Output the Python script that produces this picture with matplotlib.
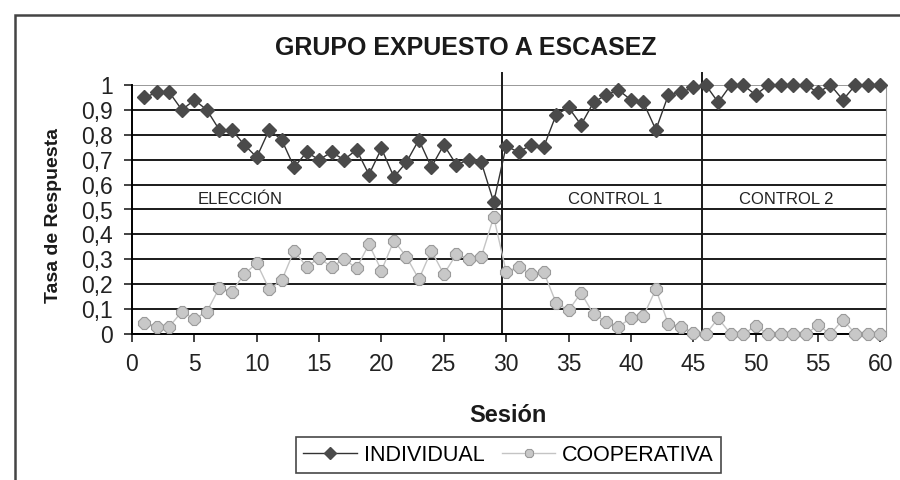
import numpy as np
import matplotlib.pyplot as plt
from matplotlib.patches import Rectangle

# datos
sesion = np.arange(1, 61)
individual = [0.95, 0.97, 0.97, 0.90, 0.94, 0.90, 0.82, 0.82, 0.76, 0.71,
              0.82, 0.78, 0.67, 0.73, 0.70, 0.73, 0.70, 0.74, 0.64, 0.745,
              0.63, 0.69, 0.78, 0.67, 0.76, 0.68, 0.70, 0.69, 0.53, 0.755,
              0.73, 0.76, 0.75, 0.88, 0.91, 0.84, 0.93, 0.96, 0.98, 0.94,
              0.93, 0.82, 0.96, 0.97, 0.99, 1.00, 0.93, 1.00, 1.00, 0.96,
              1.00, 1.00, 1.00, 1.00, 0.97, 1.00, 0.94, 1.00, 1.00, 1.00]
cooperativa = [0.045, 0.03, 0.03, 0.09, 0.06, 0.09, 0.185, 0.17, 0.24, 0.285,
               0.18, 0.215, 0.335, 0.27, 0.305, 0.27, 0.30, 0.265, 0.36, 0.255,
               0.375, 0.31, 0.22, 0.335, 0.24, 0.32, 0.30, 0.31, 0.47, 0.25,
               0.27, 0.24, 0.25, 0.125, 0.095, 0.165, 0.08, 0.05, 0.03, 0.063,
               0.072, 0.18, 0.04, 0.03, 0.005, 0.0, 0.063, 0.0, 0.0, 0.032,
               0.0, 0.0, 0.0, 0.0, 0.035, 0.0, 0.058, 0.0, 0.0, 0.0]
fases = ["ELECCIÓN", "CONTROL 1", "CONTROL 2"]
fase_x = [8.7, 38.7, 52.45]
cortes = [29.7, 45.7]
x_ticks = np.arange(0, 61, 5)
y_ticks = np.round(np.arange(0, 1.01, 0.1), 1)
y_tick_labels = [("%g" % v).replace(".", ",") for v in y_ticks]

plt.rcParams['font.family'] = ['Liberation Sans', 'DejaVu Sans']

fig = plt.figure(figsize=(9, 4.8), dpi=100)
# marco del grafico
fig.patches.append(Rectangle((15 / 900, -0.05), 1.1, 1 - 15 / 480 + 0.05,
                             transform=fig.transFigure, fill=False,
                             edgecolor='#444444', linewidth=1.8))

ax = fig.add_axes([132 / 900, 146 / 480, 754 / 900, 249 / 480])
for v in y_ticks[:-1]:
    ax.axhline(v, color='#1a1a1a', linewidth=1.4, zorder=1)
ax.axhline(1.0, color='#999999', linewidth=1.4, zorder=1)
for c in cortes:
    ax.plot([c, c], [0, 1.048], color='#1a1a1a', linewidth=1.4, clip_on=False, zorder=2)

ax.plot(sesion, individual, color='#333333', linewidth=1, marker='D', markersize=7,
        markerfacecolor='#4a4a4a', markeredgecolor='#4a4a4a', label='INDIVIDUAL', zorder=4,
        clip_on=False)
ax.plot(sesion, cooperativa, color='#c4c4c4', linewidth=1, marker='8', markersize=9,
        markerfacecolor='#c8c8c8', markeredgecolor='#9a9a9a', markeredgewidth=0.8,
        label='COOPERATIVA', zorder=3, clip_on=False)

for t, xx in zip(fases, fase_x):
    ax.text(xx, 0.522, t, ha='center', va='baseline', fontsize=12, color='#222222')

ax.set_xlim(0, 60.45)
ax.set_ylim(0, 1)
ax.set_xticks(x_ticks)
ax.set_xticklabels([str(t) for t in x_ticks], fontsize=16.5, color='#222222')
ax.set_yticks(y_ticks)
ax.set_yticklabels(y_tick_labels, fontsize=16.5, color='#222222')
ax.tick_params(axis='both', direction='out', length=6, width=1.2, color='#222222', pad=8)
ax.spines['top'].set_visible(False)
ax.spines['right'].set_color('#999999')
ax.spines['left'].set_linewidth(1.4)
ax.spines['bottom'].set_linewidth(1.4)

fig.text(466 / 900, 1 - 48 / 480, 'GRUPO EXPUESTO A ESCASEZ', ha='center', va='center',
         fontsize=18, fontweight='bold', color='#1a1a1a')
fig.text(53.5 / 900, 1 - 215 / 480, 'Tasa de Respuesta', ha='center', va='center',
         rotation=90, fontsize=14, fontweight='bold', color='#1a1a1a')
fig.text(508 / 900, 1 - 416 / 480, 'Sesión', ha='center', va='center',
         fontsize=17, fontweight='bold', color='#1a1a1a')

leg = fig.legend(loc='upper center', bbox_to_anchor=(508.5 / 900, 1 - 437 / 480), ncol=2,
                 fontsize=15.5, frameon=True, fancybox=False, edgecolor='#1a1a1a',
                 handlelength=2.5, columnspacing=0.8, borderpad=0.35, handletextpad=0.3,
                 borderaxespad=0)
leg.get_frame().set_linewidth(1.2)
for h in leg.legend_handles:
    h.set_markersize(6)

plt.savefig('out.png', dpi=100, facecolor='white')
